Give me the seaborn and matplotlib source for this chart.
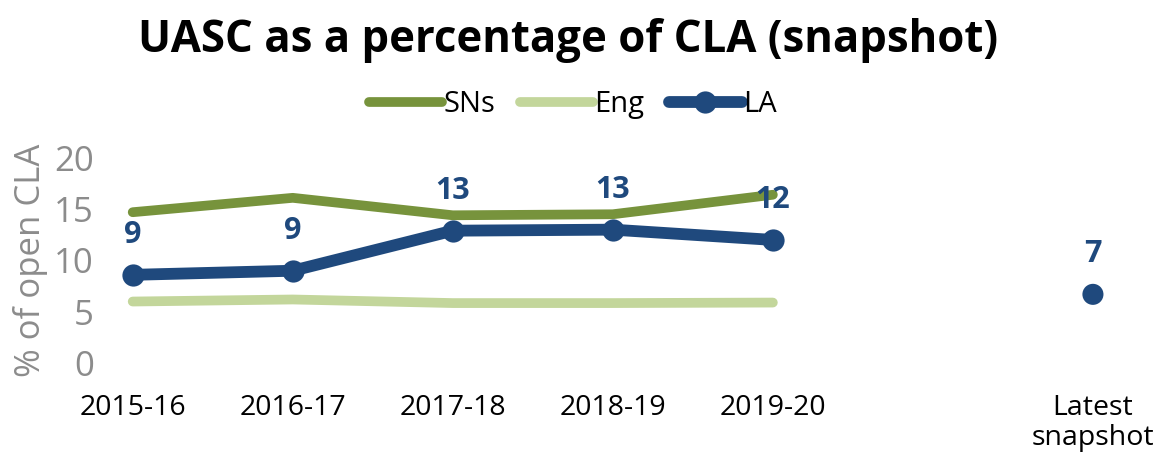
import numpy as np
import pandas as pd
import matplotlib
matplotlib.use("Agg")
import matplotlib.pyplot as plt
import seaborn as sns

sns.set_theme(style="white")
plt.rcParams["font.family"] = ["Open Sans", "DejaVu Sans"]

# ---- data ----
categories = ["2015-16", "2016-17", "2017-18", "2018-19", "2019-20", "", "Latest\nsnapshot"]
sns_vals = [14.7, 16.1, 14.4, 14.5, 16.4]
eng_vals = [6.0, 6.2, 5.85, 5.85, 5.9]
la_vals = [8.6, 9.0, 12.9, 13.0, 12.0]
la_latest = 6.7
la_labels = ["9", "9", "13", "13", "12"]
la_latest_label = "7"

C_SNS = "#77933C"
C_ENG = "#C3D69B"
C_LA = "#1F497D"
GREY = "#8C8C8C"

pos = np.arange(len(categories))
df = pd.DataFrame({"x": pos[:5], "SNs": sns_vals, "Eng": eng_vals, "LA": la_vals})

fig = plt.figure(figsize=(11.71, 4.71), dpi=100)
ax = fig.add_axes([0.086, 0.229, 0.902, 0.436])

sns.lineplot(data=df, x="x", y="SNs", ax=ax, color=C_SNS, lw=7, label="SNs",
             solid_capstyle="round")
sns.lineplot(data=df, x="x", y="Eng", ax=ax, color=C_ENG, lw=7, label="Eng",
             solid_capstyle="round")
sns.lineplot(data=df, x="x", y="LA", ax=ax, color=C_LA, lw=8.5, label="LA",
             marker="o", markersize=16, markeredgewidth=0, solid_capstyle="round")
sns.scatterplot(x=[pos[6]], y=[la_latest], ax=ax, color=C_LA, s=230,
                edgecolor="none", legend=False)

for xi, v, t in zip(pos[:5], la_vals, la_labels):
    ax.annotate(t, (xi, v), xytext=(0, 18), textcoords="offset points",
                ha="center", va="bottom", fontsize=22, fontweight="bold",
                color=C_LA, annotation_clip=False)
ax.annotate(la_latest_label, (pos[6], la_latest), xytext=(0, 18),
            textcoords="offset points", ha="center", va="bottom",
            fontsize=22, fontweight="bold", color=C_LA, annotation_clip=False)

ax.set_xlim(-0.2, 6.4)
ax.set_ylim(0, 20)
ax.set_yticks([0, 5, 10, 15, 20])
ax.set_xticks(pos)
ax.set_xticklabels(categories, fontsize=20.5, color="black", linespacing=1.1)
ax.tick_params(axis="y", labelsize=25, labelcolor=GREY, length=0, pad=5)
ax.tick_params(axis="x", length=0, pad=22)
ax.set_xlabel("")
ax.set_ylabel("% of open CLA", fontsize=25, color=GREY, labelpad=4)
for s in ax.spines.values():
    s.set_visible(False)
ax.grid(False)

leg = ax.legend(loc="lower center", bbox_to_anchor=(0.447, 1.06), ncol=3,
                frameon=False, fontsize=21, handlelength=2.5,
                handletextpad=0.05, columnspacing=0.85)
for txt in leg.get_texts():
    txt.set_color("black")

fig.suptitle("UASC as a percentage of CLA (snapshot)", x=0.485, y=0.962,
             fontsize=31.5, fontweight="bold", color="black")

fig.savefig("out.png", dpi=100)
